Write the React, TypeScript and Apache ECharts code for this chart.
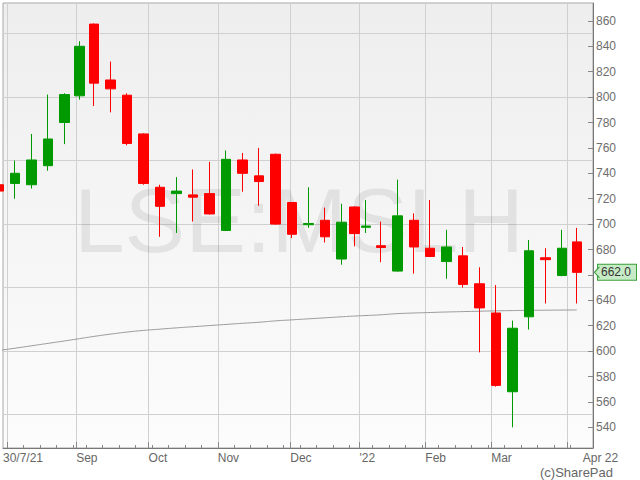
import React, { useEffect, useRef } from 'react';
import * as echarts from 'echarts';

// Weekly candles (week start dates) and number of trading days in each week
const weekStarts = [
  '2021-07-26', '2021-08-02', '2021-08-09', '2021-08-16', '2021-08-23', '2021-08-31',
  '2021-09-06', '2021-09-13', '2021-09-20', '2021-09-27', '2021-10-04', '2021-10-11',
  '2021-10-18', '2021-10-25', '2021-11-01', '2021-11-08', '2021-11-15', '2021-11-22',
  '2021-11-29', '2021-12-06', '2021-12-13', '2021-12-20', '2021-12-29', '2022-01-04',
  '2022-01-10', '2022-01-17', '2022-01-24', '2022-01-31', '2022-02-07', '2022-02-14',
  '2022-02-21', '2022-02-28', '2022-03-07', '2022-03-14', '2022-03-21', '2022-03-28',
  '2022-04-04',
];
const weekTradingDays = [5, 5, 5, 5, 5, 4, 5, 5, 5, 5, 5, 5, 5, 5, 5, 5, 5, 5, 5, 5, 5, 5, 3, 4, 5, 5, 5, 5, 5, 5, 5, 5, 5, 5, 5, 5, 4];
const firstWeekTradingIndex = -5; // trading-day index of 26 Jul 2021 (2 Aug 2021 = 0)

const opens = [731, 732, 731, 746, 780, 801, 857.5, 813.5, 801.5, 771, 729, 724, 723, 724, 695, 750.5, 738, 755, 717, 699.5, 703, 672.5, 713.5, 697.5, 683, 663, 703, 681, 670.5, 675, 653, 630, 568, 627, 673.5, 659.5, 686];
const closes = [726, 740, 750.5, 767, 802, 840, 811, 806.5, 763.5, 732, 714, 726, 721.2, 708, 751, 740, 733.5, 700, 692, 700.5, 690, 701.5, 692.5, 698.5, 681.6, 706.5, 682, 674.5, 682, 652.5, 634, 573, 618, 679, 672, 681, 662];
const lows = [724, 720, 728, 742, 763, 798, 793, 788, 762, 731, 690, 693, 702, 707.5, 694.5, 725.5, 714.5, 699.5, 689, 697, 685.5, 668, 682.5, 693, 670, 662.5, 661, 674, 657, 650, 599, 572, 540, 617, 637.5, 659, 637.5];
const highs = [733, 750, 771, 802, 803, 844, 858, 828, 803, 771.5, 731, 737, 743, 749, 758, 756, 760, 755.5, 717.5, 729, 713, 716, 714, 719, 702, 735, 708.5, 719, 695.5, 682, 666, 652, 624, 687.5, 681, 695.5, 697];
const movingAverage = [600.5, 602.3, 604.2, 606.1, 608, 609.8, 611.6, 613.4, 615, 616.3, 617.3, 618.3, 619.2, 620.1, 621, 621.9, 622.7, 623.8, 624.6, 625.4, 626.2, 627, 627.6, 628, 628.6, 629.5, 630, 630.4, 630.8, 631.1, 631.4, 631.7, 631.9, 632.1, 632.2, 632.3, 632.4];

// Trading-day index of the first trading day of each month (Aug 2021 .. Apr 2022)
const monthStartDays = [0, 21, 43, 64, 86, 107, 127, 147, 170];
const xLabelDays = [-1.2, 21, 43, 64, 86, 107, 127, 147, 174.8];
const xLabelTexts = ['30/7/21', 'Sep', 'Oct', 'Nov', 'Dec', "'22", 'Feb', 'Mar', 'Apr 22'];
const yTickValues = [540, 560, 580, 600, 620, 640, 660, 680, 700, 720, 740, 760, 780, 800, 820, 840, 860];
// 660 is covered by the last-price tag in the original
const yLabelValues = [540, 560, 580, 600, 620, 640, 680, 700, 720, 740, 760, 780, 800, 820, 840, 860];
const yGridValues = [550, 600, 650, 700, 750, 800, 850];
const lastPrice = 662.0;
const ticker = 'LSE:MSLH';

const X_MIN = -1.2;
const X_MAX = 177.9;
const Y_MIN = 523.7;
const Y_MAX = 874.1;

const FONT = 'Liberation Sans, Arial, sans-serif';

export default function App() {
  const ref = useRef<HTMLDivElement>(null);

  useEffect(() => {
    if (!ref.current) return;
    const chart = echarts.init(ref.current, null, { renderer: 'svg' });

    const positions: number[] = [];
    const weekTicks: number[] = [];
    let s = firstWeekTradingIndex;
    weekStarts.forEach((_, i) => {
      weekTicks.push(s);
      positions.push(s + weekTradingDays[i] / 2);
      s += weekTradingDays[i];
    });
    const weekTicksIn = weekTicks.filter((v) => v >= X_MIN && v <= X_MAX);

    const candleData = positions.map((p, i) => [p, opens[i], closes[i], lows[i], highs[i]]);
    const maData = positions.map((p, i) => [p, movingAverage[i]]);

    const labelFor = (v: number) => {
      let best = 0;
      let bd = Infinity;
      xLabelDays.forEach((d, i) => {
        const dd = Math.abs(d - v);
        if (dd < bd) { bd = dd; best = i; }
      });
      return xLabelTexts[best];
    };

    const option: any = {
      animation: false,
      backgroundColor: '#ffffff',
      grid: {
        left: 3, right: 46, top: 3, bottom: 32,
        show: true,
        backgroundColor: new echarts.graphic.LinearGradient(0, 0, 0, 1, [
          { offset: 0, color: '#eeeeee' },
          { offset: 1, color: '#fcfcfc' },
        ]),
        borderColor: '#a8a8a8',
        borderWidth: 1,
      },
      graphic: [
        {
          type: 'text', x: 299, y: 220, z: 1, silent: true,
          style: { text: ticker, fontSize: 91, fontFamily: FONT, fill: 'rgba(0,0,0,0.075)', align: 'center', verticalAlign: 'middle' },
        },
        {
          type: 'text', right: 27, bottom: 1, z: 1, silent: true,
          style: { text: '(c)SharePad', fontSize: 13, fontFamily: FONT, fill: '#666666' },
        },
      ],
      xAxis: [
        {
          type: 'value', min: X_MIN, max: X_MAX, position: 'bottom',
          axisLine: { show: true, onZero: false, lineStyle: { color: '#777777' } },
          axisTick: { show: true, inside: true, length: 6, customValues: monthStartDays, lineStyle: { color: '#888888' } },
          splitLine: { show: true, lineStyle: { color: '#d0d0d0', width: 1 } },
          axisLabel: {
            customValues: xLabelDays, formatter: (v: number) => labelFor(v), align: 'left',
            margin: 4, color: '#666666', fontFamily: FONT, fontSize: 12,
          },
        },
        {
          type: 'value', min: X_MIN, max: X_MAX, position: 'bottom',
          axisLine: { show: false, onZero: false },
          axisTick: { show: true, inside: true, length: 3, customValues: weekTicksIn, lineStyle: { color: '#888888' } },
          axisLabel: { show: false },
          splitLine: { show: false },
        },
      ],
      yAxis: [
        {
          type: 'value', min: Y_MIN, max: Y_MAX, position: 'right',
          axisLine: { show: true, onZero: false, lineStyle: { color: '#777777' } },
          axisTick: { show: true, inside: true, length: 5, customValues: yTickValues, lineStyle: { color: '#888888' } },
          axisLabel: { customValues: yLabelValues, margin: 3, color: '#6e6e6e', fontFamily: FONT, fontSize: 12 },
          splitLine: { show: false },
        },
        {
          type: 'value', min: Y_MIN, max: Y_MAX, position: 'right',
          axisLine: { show: false },
          axisTick: { show: false, customValues: yGridValues },
          axisLabel: { show: false },
          splitLine: { show: true, lineStyle: { color: '#d0d0d0', width: 1 } },
        },
        {
          type: 'value', min: Y_MIN, max: Y_MAX, position: 'right',
          axisLine: { show: false },
          axisTick: { show: false, customValues: [lastPrice] },
          splitLine: { show: false },
          axisLabel: {
            customValues: [lastPrice], formatter: () => lastPrice.toFixed(1),
            margin: 5, color: '#333333', fontFamily: FONT, fontSize: 12,
            backgroundColor: '#c6ebc6', borderColor: '#3a9e3a', borderWidth: 1,
            padding: [2, 5, 1, 3],
          },
        },
      ],
      series: [
        {
          type: 'line', xAxisIndex: 0, yAxisIndex: 0, data: maData,
          showSymbol: false, symbol: 'none', smooth: true,
          lineStyle: { color: '#9a9a9a', width: 1 }, z: 2,
        },
        {
          type: 'candlestick', xAxisIndex: 0, yAxisIndex: 0, data: candleData,
          barWidth: 10, z: 3,
          itemStyle: {
            color: '#009a00', color0: '#ff0000',
            borderColor: '#009a00', borderColor0: '#ff0000', borderWidth: 1,
          },
          markPoint: {
            silent: true,
            symbol: 'path://M5,0 L0,5 L5,10',
            symbolSize: [5, 11],
            symbolOffset: [4, 0],
            label: { show: false },
            itemStyle: { color: '#c6ebc6', borderColor: '#3a9e3a', borderWidth: 1 },
            data: [{ coord: [X_MAX, lastPrice] }],
          },
        },
      ],
    };

    chart.setOption(option);
    return () => chart.dispose();
  }, []);

  return <div ref={ref} style={{ position: 'fixed', left: 0, top: 0, width: 640, height: 480 }} />;
}
